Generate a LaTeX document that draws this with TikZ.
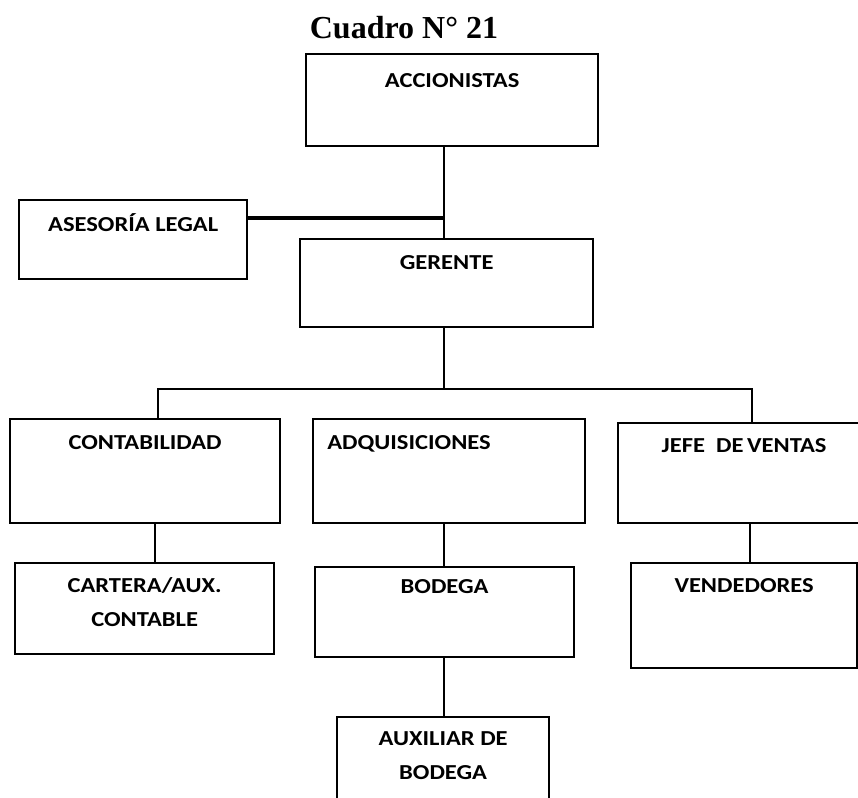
\documentclass[tikz,border=0pt]{standalone}
\usepackage{fontspec}
\newfontfamily\cajafont[FakeStretch=1.15]{Carlito}
\newfontfamily\titulofont{Liberation Serif}
\tikzset{
	caja/.style={draw, rectangle, line width=1.7pt, anchor=north west, inner sep=0pt},
	rotulo/.style={anchor=north, inner sep=0pt, text height=10.5pt, align=center,
		font=\cajafont\bfseries\fontsize{16pt}{25.5pt}\selectfont},
	dosrotulo/.style={rotulo, text height=36pt},
	linea/.style={line width=1.7pt},
}
\begin{document}
\begin{tikzpicture}[x=0.75pt, y=-0.75pt]
	\useasboundingbox (0,0) rectangle (858,798);
	\node[anchor=base, inner sep=0pt, font=\titulofont\bfseries\fontsize{24pt}{28pt}\selectfont] (titulo) at (404,39) {Cuadro N° 21};
	
	\node[caja, minimum width=219pt, minimum height=69pt, label={[rotulo, yshift=-15pt]north:ACCIONISTAS}] (acc) at (305,53) {};
	\node[caja, minimum width=171pt, minimum height=59.25pt, label={[rotulo, yshift=-13.5pt]north:ASESORÍA LEGAL}] (ase) at (18,199) {};
	\node[caja, minimum width=219.75pt, minimum height=66pt, label={[rotulo, yshift=-12.75pt]north:GERENTE}] (ger) at (299,238) {};
	
		\node[caja, minimum width=202.5pt, minimum height=78pt, label={[rotulo, yshift=-12.75pt]north:CONTABILIDAD}] (cont) at (9,418) {};
		\node[caja, minimum width=204pt, minimum height=78pt, label={[rotulo, anchor=north west, xshift=11.25pt, yshift=-12.75pt]north west:ADQUISICIONES}] (adq) at (312,418) {};
		\node[caja, minimum width=183.75pt, minimum height=75pt, label={[rotulo, xshift=2.6pt, yshift=-12pt]north:JEFE\ \ DE\,VENTAS}] (jefe) at (617,422) {};
	
			\node[caja, minimum width=194.25pt, minimum height=68.25pt, label={[dosrotulo, yshift=-12pt]north:CARTERA/AUX.\\CONTABLE}] (cart) at (14,562) {};
			\node[caja, minimum width=194.25pt, minimum height=67.5pt, label={[rotulo, yshift=-9.75pt]north:BODEGA}] (bod) at (314,566) {};
			\node[caja, minimum width=169.5pt, minimum height=78.75pt, label={[rotulo, yshift=-12pt]north:VENDEDORES}] (vend) at (630,562) {};
				\node[caja, minimum width=159pt, minimum height=75pt, label={[dosrotulo, yshift=-11.25pt]north:AUXILIAR DE\\BODEGA}] (aux) at (336,716) {};
	
	% puntos de union
	\coordinate (ramaA) at (444,218);
	\coordinate (bus) at (444,389);
	\coordinate (busL) at (158,389);
	\coordinate (busR) at (752,389);
	\coordinate (bajaC) at (155,0);
	\coordinate (bajaJ) at (750,0);
	
	\draw[linea] (ramaA |- acc.south) -- (ramaA |- ger.north);
	\draw[line width=2.3pt] (ase.east |- ramaA) -- (ramaA);
	\draw[linea] (bus |- ger.south) -- (bus);
	\draw[linea] (busL |- cont.north) -- (busL) -- (busR) -- (busR |- jefe.north);
		\draw[linea] (bajaC |- cont.south) -- (bajaC |- cart.north);
		\draw[linea] (bus |- adq.south) -- (bus |- bod.north);
		\draw[linea] (bajaJ |- jefe.south) -- (bajaJ |- vend.north);
			\draw[linea] (bus |- bod.south) -- (bus |- aux.north);
\end{tikzpicture}
\end{document}
